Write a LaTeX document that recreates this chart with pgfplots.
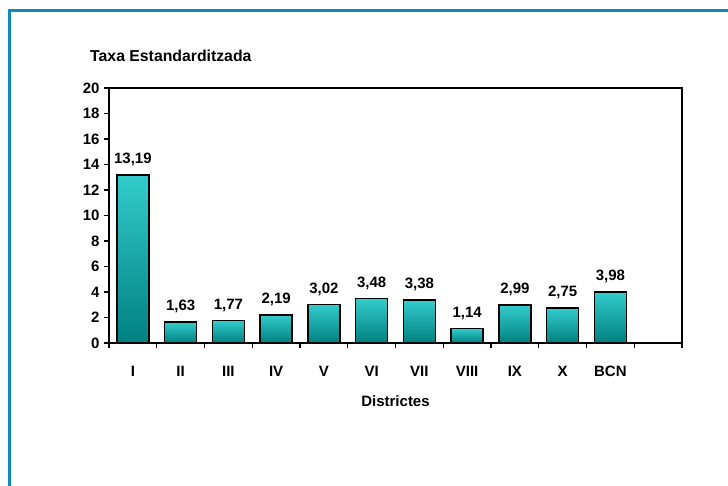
\documentclass[border=0pt]{standalone}
\usepackage{fontspec}
\setmainfont{Liberation Sans}
\usepackage{pgfplots}
\pgfplotsset{compat=1.18}
\definecolor{frameblue}{RGB}{16,140,180}
\definecolor{bartop}{RGB}{51,204,204}
\definecolor{barbot}{RGB}{0,128,128}
\begin{document}
\begin{tikzpicture}
\path[use as bounding box] (0,0) rectangle (728pt,486pt);
\draw[frameblue, line width=3pt] (728pt,475pt) -- (9pt,475pt) -- (9pt,0pt);
\node[anchor=west, font=\fontsize{15.8}{17}\selectfont\bfseries, inner sep=0pt] at (90pt,430pt) {Taxa Estandarditzada};
\begin{axis}[
  at={(109pt,143pt)}, anchor=south west,
  scale only axis, width=573pt, height=255pt,
  xmin=0, xmax=12, ymin=0, ymax=20,
  ytick={0,2,...,20},
  xtick={0,...,12},
  x tick label as interval,
  xticklabels={I,II,III,IV,V,VI,VII,VIII,IX,X,BCN,{}},
  xtick pos=left, ytick pos=left,
  axis line style={line width=1.6pt},
  tick style={line width=1.2pt, black},
  tick align=outside, major tick length=5pt,
  font=\fontsize{15}{17}\selectfont\bfseries,
  /pgf/number format/assume math mode=true,
  xticklabel style={anchor=north, text height=11pt, text depth=0pt, yshift=-14pt},
  yticklabel style={xshift=-1pt},
  xlabel={Districtes},
  xlabel style={yshift=-12pt},
  axis on top,
  barstyle/.style={ybar, bar width=32pt, bar shift=0pt, draw=black, line width=1.5pt, top color=bartop, bottom color=barbot, mark=none,
    nodes near coords={\pgfmathprintnumber[fixed,fixed zerofill,precision=2,use comma]{\pgfplotspointmeta}},
    nodes near coords style={font=\fontsize{15}{17}\selectfont\bfseries, text=black, anchor=south, yshift=5pt}},
]
\addplot[barstyle] coordinates {(0.5,13.19)};
\addplot[barstyle] coordinates {(1.5,1.63)};
\addplot[barstyle] coordinates {(2.5,1.77)};
\addplot[barstyle] coordinates {(3.5,2.19)};
\addplot[barstyle] coordinates {(4.5,3.02)};
\addplot[barstyle] coordinates {(5.5,3.48)};
\addplot[barstyle] coordinates {(6.5,3.38)};
\addplot[barstyle] coordinates {(7.5,1.14)};
\addplot[barstyle] coordinates {(8.5,2.99)};
\addplot[barstyle] coordinates {(9.5,2.75)};
\addplot[barstyle] coordinates {(10.5,3.98)};
\end{axis}
\end{tikzpicture}
\end{document}
